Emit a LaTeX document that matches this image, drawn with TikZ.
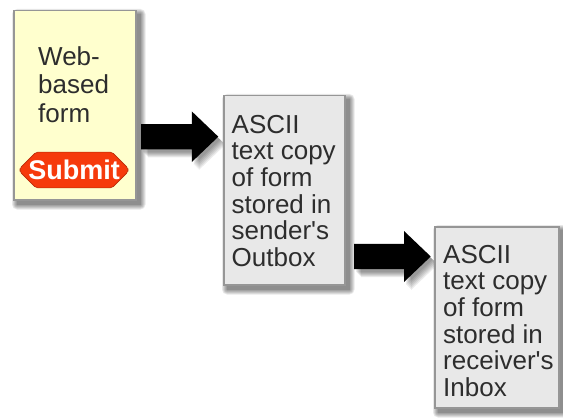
\documentclass[tikz,border=0pt]{standalone}
\usepackage{fontspec}
\setmainfont{Liberation Sans}[Ligatures=TeXOff]
\usetikzlibrary{calc,shapes.misc}
\pgfdeclarelayer{bg}
\pgfsetlayers{bg,main}
\definecolor{paleyellow}{RGB}{255,255,206}
\definecolor{boxgray}{RGB}{232,232,232}
\definecolor{edgegray}{RGB}{150,150,150}
\definecolor{textgray}{RGB}{45,45,45}
\definecolor{btnred}{RGB}{246,58,12}
\newcommand\cardshadow[1]{%
  \foreach \r in {0,1,2,3,4,5}{%
    \fill[black,opacity=0.09,rounded corners=\r pt]
      ($(#1.north west)+(4-\r,4-\r)$) rectangle ($(#1.south east)+(4+\r,4+\r)$);}}
% start, end, dx, dy
\newcommand\blockarrow[4]{%
  ($(#1)+(#3,#4-12.6)$) -- ($(#2)+(#3-26.5,#4-12.6)$) -- ($(#2)+(#3-26.5,#4-25.3)$)
  -- ($(#2)+(#3,#4)$) -- ($(#2)+(#3-26.5,#4+25.3)$) -- ($(#2)+(#3-26.5,#4+12.6)$)
  -- ($(#1)+(#3,#4+12.6)$) -- cycle}
\begin{document}
\begin{tikzpicture}[x=1pt,y=-1pt,
  card/.style={draw=edgegray,line width=1.5pt,anchor=north west,inner sep=0pt},
  cardtext/.style={anchor=north west,inner sep=0pt,align=left,text=textgray,
    font=\fontsize{26}{26.7}\selectfont},
  submitbtn/.style={chamfered rectangle,chamfered rectangle xsep=8pt,
    chamfered rectangle ysep=8pt,minimum width=108pt,minimum height=31pt,
    inner sep=0pt,fill=btnred,draw=btnred!75!black,line width=0.6pt,
    rounded corners=2pt,
    text=white,font=\bfseries\fontsize{27}{27}\selectfont},
  arrowfill/.style={fill=black}]
\useasboundingbox (0,0) rectangle (563,420);

% cards
\node[card,fill=paleyellow,minimum width=122pt,minimum height=189pt] (b1) at (13,10) {};
\node[card,fill=boxgray,minimum width=121pt,minimum height=189pt] (b2) at (223,95) {};
\node[card,fill=boxgray,minimum width=124pt,minimum height=181pt] (b3) at (434,226) {};

% texts
\node[cardtext,font=\fontsize{26}{28.5}\selectfont] (t1) at (38,46) {Web-\\based\\form};
\node[cardtext] (t2) at (231.5,114.7) {ASCII\\text copy\\of form\\stored in\\sender's\\Outbox};
\node[cardtext] (t3) at (443,244.7) {ASCII\\text copy\\of form\\stored in\\receiver's\\Inbox};

% submit button
\node[submitbtn] (sb) at (74,170) {Submit};

% arrows
\coordinate (a1s) at (141,136.7);
\coordinate (a1e) at (218.3,136.7);
\coordinate (a2s) at (354,256.5);
\coordinate (a2e) at (430.7,256.5);
\fill[arrowfill] \blockarrow{a1s}{a1e}{0}{0};
\fill[arrowfill] \blockarrow{a2s}{a2e}{0}{0};

% background and shadows
\begin{pgfonlayer}{bg}
  \fill[white] (0,0) rectangle (563,420);
  \cardshadow{b1}
  \cardshadow{b2}
  \cardshadow{b3}
  \foreach \d in {2,3,4,5,6,7}{%
    \fill[black,opacity=0.08] \blockarrow{a1s}{a1e}{\d}{\d+1};
    \fill[black,opacity=0.08] \blockarrow{a2s}{a2e}{\d}{\d+1};}
\end{pgfonlayer}
\end{tikzpicture}
\end{document}
